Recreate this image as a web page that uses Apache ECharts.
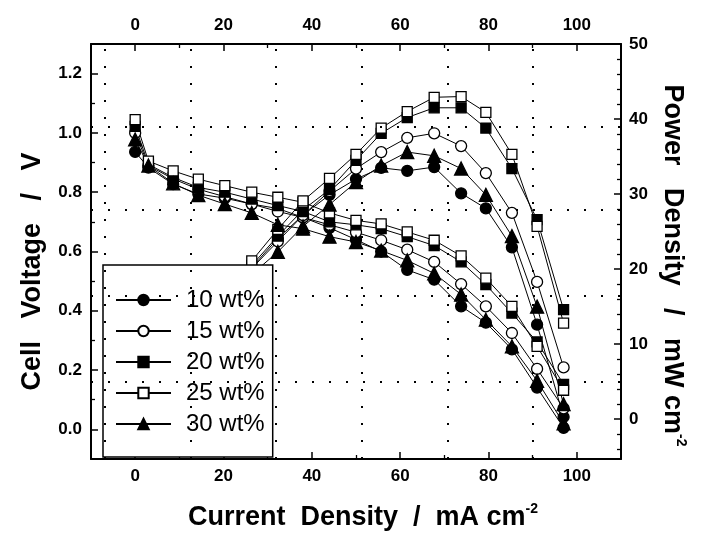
<!DOCTYPE html>
<html><head><meta charset="utf-8">
<script src="https://cdn.jsdelivr.net/npm/echarts@6/dist/echarts.min.js"></script>
<style>html,body{margin:0;padding:0;background:#fff}#c{width:702px;height:536px}</style>
</head><body><div id="c"></div>
<script>
// ---- data ----
const currentDensity = [0, 3, 8.6, 14.3, 20.3, 26.4, 32.3, 38, 44, 50, 55.7, 61.6, 67.7, 73.8, 79.4, 85.3, 91, 97];
const seriesNames = ['10 wt%', '15 wt%', '20 wt%', '25 wt%', '30 wt%'];

const voltage10 = [0.936, 0.883, 0.827, 0.794, 0.78, 0.76, 0.745, 0.715, 0.68, 0.64, 0.60, 0.538, 0.505, 0.415, 0.36, 0.27, 0.141, 0.005];
const voltage15 = [1.00, 0.89, 0.845, 0.81, 0.785, 0.76, 0.735, 0.715, 0.69, 0.665, 0.638, 0.606, 0.565, 0.49, 0.415, 0.325, 0.204, 0.071];
const voltage20 = [1.022, 0.894, 0.85, 0.816, 0.80, 0.777, 0.755, 0.735, 0.70, 0.69, 0.677, 0.65, 0.62, 0.565, 0.488, 0.392, 0.295, 0.152];
const voltage25 = [1.045, 0.905, 0.872, 0.844, 0.822, 0.80, 0.783, 0.766, 0.73, 0.705, 0.693, 0.666, 0.638, 0.585, 0.51, 0.415, 0.28, 0.132];
const voltage30 = [0.978, 0.89, 0.83, 0.79, 0.76, 0.73, 0.69, 0.677, 0.65, 0.632, 0.603, 0.57, 0.526, 0.455, 0.37, 0.28, 0.164, 0.02];

const power10 = [0, 2.6, 7.1, 11.4, 16.0, 20.2, 24.1, 27.2, 29.9, 32.0, 33.5, 33.1, 33.6, 30.1, 28.1, 22.9, 12.6, 0.3];
const power15 = [0, 2.7, 7.3, 11.6, 15.9, 20.1, 23.7, 27.2, 30.4, 33.4, 35.6, 37.5, 38.1, 36.4, 32.8, 27.5, 18.3, 6.9];
const power20 = [0, 2.7, 7.3, 11.7, 16.2, 20.5, 24.4, 27.9, 30.6, 34.5, 38.1, 40.2, 41.5, 41.5, 38.8, 33.4, 26.6, 14.6];
const power25 = [0, 2.7, 7.5, 12.1, 16.7, 21.1, 25.3, 29.1, 32.1, 35.3, 38.8, 41.0, 42.9, 43.0, 40.9, 35.3, 25.7, 12.8];
const power30 = [0, 2.7, 7.1, 11.3, 15.4, 19.3, 22.3, 25.7, 28.6, 31.6, 33.8, 35.6, 35.1, 33.4, 29.9, 24.4, 15.0, 2.0];

const xTickLabels = [0, 20, 40, 60, 80, 100];
const voltageTickLabels = [0, 0.2, 0.4, 0.6, 0.8, 1.0, 1.2];
const powerTickLabels = [0, 10, 20, 30, 40, 50];

// ---- styles ----
const FONT = '"Liberation Sans", Arial, sans-serif';
const xMinorTicks = [10, 30, 50, 70, 90];
const vMinorTicks = [0.1, 0.3, 0.5, 0.7, 0.9, 1.1];
const pMinorTicks = [-4, -2, 2, 4, 6, 8, 12, 14, 16, 18, 22, 24, 26, 28, 32, 34, 36, 38, 42, 44, 46, 48];
const dotGridX = [-6.83, 12.64, 31.82, 51.3, 70.8, 90.1];
const dotGridY = [1.017, 0.736, 0.447, 0.161];
const X_RANGE = [-10, 110], V_RANGE = [-0.1, 1.3], P_RANGE = [-5.3, 50];

const markerStyle = {
  '10 wt%': { symbol: 'circle', fill: '#000', size: 11 },
  '15 wt%': { symbol: 'circle', fill: '#fff', size: 11 },
  '20 wt%': { symbol: 'rect', fill: '#000', size: 10 },
  '25 wt%': { symbol: 'rect', fill: '#fff', size: 10 },
  '30 wt%': { symbol: 'triangle', fill: '#000', size: 13 }
};
const vData = [voltage10, voltage15, voltage20, voltage25, voltage30];
const pData = [power10, power15, power20, power25, power30];

const lineCol = { color: '#000', width: 2 };
const labelStyle = { color: '#000', fontSize: 17, fontWeight: 'bold', fontFamily: FONT };
const nameRich = {
  a: { fontSize: 27, fontWeight: 'bold', fontFamily: FONT, color: '#000', lineHeight: 31 },
  s: { fontSize: 14, fontWeight: 'bold', fontFamily: FONT, color: '#000', verticalAlign: 'top', lineHeight: 14 }
};

function majorAxis(range, pos, ticks, fmt, margin, extra) {
  return Object.assign({
    type: 'value', min: range[0], max: range[1], position: pos,
    axisLine: { show: true, onZero: false, lineStyle: lineCol },
    axisTick: { show: true, inside: true, length: 7, customValues: ticks, lineStyle: { color: '#000', width: 1.5 } },
    axisLabel: Object.assign({ show: true, customValues: ticks, formatter: fmt, margin: margin }, labelStyle),
    splitLine: { show: false }
  }, extra || {});
}
function minorAxis(range, pos, ticks) {
  return {
    type: 'value', min: range[0], max: range[1], position: pos,
    axisLine: { show: false, onZero: false },
    axisTick: { show: true, inside: true, length: 4, customValues: ticks, lineStyle: { color: '#000', width: 1.3 } },
    axisLabel: { show: false }, splitLine: { show: false }
  };
}

const xAxes = [
  majorAxis(X_RANGE, 'bottom', xTickLabels, v => String(v), 9, {
    name: '{a|Current  Density  /  mA cm}{s|-2}', nameLocation: 'middle', nameGap: 43,
    nameTextStyle: { rich: nameRich, padding: [0, 0, 0, 14] }
  }),
  minorAxis(X_RANGE, 'bottom', xMinorTicks),
  majorAxis(X_RANGE, 'top', xTickLabels, v => String(v), 10),
  minorAxis(X_RANGE, 'top', xMinorTicks)
];
const yAxes = [
  majorAxis(V_RANGE, 'left', voltageTickLabels, v => v.toFixed(1), 9, {
    name: '{a|Cell   Voltage   /   V}', nameLocation: 'middle', nameGap: 43, nameRotate: 90,
    nameTextStyle: { rich: nameRich, padding: [0, 40, 0, 0] }
  }),
  minorAxis(V_RANGE, 'left', vMinorTicks),
  majorAxis(P_RANGE, 'right', powerTickLabels, v => String(v), 8, {
    name: '{a|Power   Density   /   mW cm}{s|-2}', nameLocation: 'middle', nameGap: 25, nameRotate: -90,
    nameTextStyle: { rich: nameRich, padding: [0, 0, 0, 28] }
  }),
  minorAxis(P_RANGE, 'right', pMinorTicks)
];

const series = [];
seriesNames.forEach((name, i) => {
  const m = markerStyle[name];
  const common = {
    name, type: 'line', xAxisIndex: 0, symbol: m.symbol, symbolSize: m.size,
    itemStyle: { color: m.fill, borderColor: '#000', borderWidth: 1.3 },
    lineStyle: { color: '#000', width: 1 }, z: 2, animation: false
  };
  series.push(Object.assign({}, common, { yAxisIndex: 0, data: currentDensity.map((x, j) => [x, vData[i][j]]) }));
  series.push(Object.assign({}, common, { yAxisIndex: 2, data: currentDensity.map((x, j) => [x, pData[i][j]]) }));
});
series.push({
  type: 'line', data: [], xAxisIndex: 0, yAxisIndex: 0, z: 6, silent: true, animation: false,
  markLine: {
    silent: true, symbol: ['none', 'none'], label: { show: false }, animation: false, z: 6,
    lineStyle: { type: [2, 15], color: '#000', width: 2, opacity: 1 },
    emphasis: { disabled: true },
    data: dotGridX.map(v => ({ xAxis: v })).concat(dotGridY.map(v => ({ yAxis: v })))
  }
});

const chart = echarts.init(document.getElementById('c'), null, { renderer: 'canvas' });
chart.setOption({
  animation: false,
  backgroundColor: '#fff',
  grid: { left: 91, right: 81, top: 44, bottom: 72, containLabel: false },
  xAxis: xAxes,
  yAxis: yAxes,
  legend: {
    data: seriesNames, orient: 'vertical', left: 103, top: 265,
    itemWidth: 55, itemHeight: 13, itemGap: 5,
    padding: [22, 8, 20, 12],
    backgroundColor: '#fff', borderColor: '#000', borderWidth: 1.5, borderRadius: 0,
    textStyle: { fontSize: 24, fontFamily: FONT, color: '#000', padding: [0, 0, 0, 10], lineHeight: 26 },
    selectedMode: false, z: 3
  },
  series
});
</script></body></html>
